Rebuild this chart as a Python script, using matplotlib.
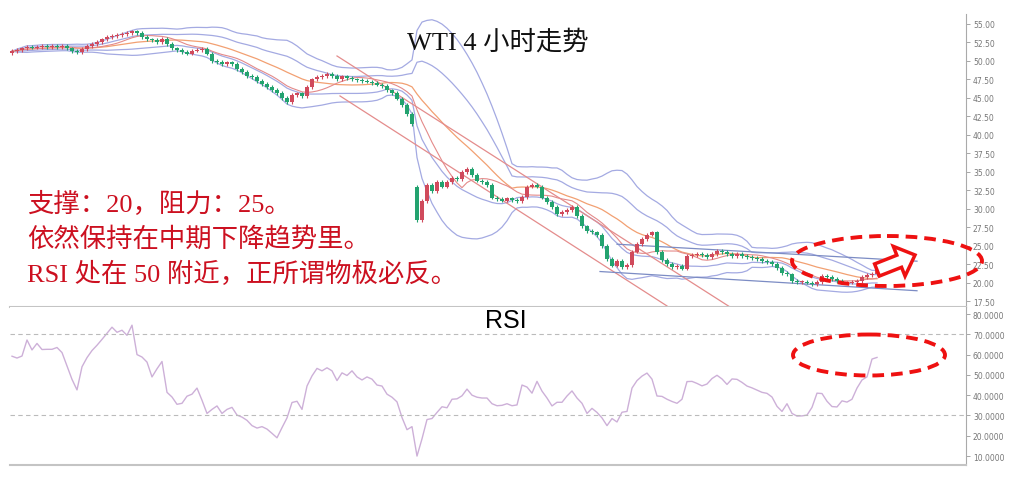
import numpy as np
import pandas as pd
import matplotlib
matplotlib.use('Agg')
import matplotlib.pyplot as plt
from matplotlib.patches import Ellipse, FancyArrow
from matplotlib.ticker import FormatStrFormatter

# 收盘价，每根4小时K线
closes = [
    51.3, 51.5, 51.7, 51.9, 51.8, 51.9, 52.0, 51.9, 52.0, 51.9,
    52.0, 51.7, 51.3, 51.2, 51.6, 52.0, 52.3, 52.6, 52.9, 53.2,
    53.4, 53.5, 53.6, 53.8, 54.0, 53.8, 53.2, 52.9, 52.8, 52.6,
    53.0, 52.3, 51.7, 51.5, 51.2, 51.0, 51.4, 51.5, 51.6, 51.0,
    50.0, 49.9, 49.6, 49.8, 49.6, 48.9, 48.5, 48.0, 47.8, 47.3,
    46.9, 46.5, 46.1, 45.7, 45.0, 44.4, 45.4, 45.6, 45.3, 46.5,
    47.5, 47.8, 48.0, 48.2, 48.0, 47.6, 47.9, 47.7, 47.5, 47.4,
    47.3, 47.2, 47.0, 46.8, 46.6, 46.0, 45.7, 44.9, 44.0, 42.8,
    41.4, 28.5, 31.0, 33.2, 32.4, 33.6, 33.0, 33.6, 34.2, 34.0,
    35.0, 35.4, 34.6, 33.8, 33.6, 33.2, 31.5, 31.3, 31.1, 31.4,
    31.2, 31.0, 31.6, 33.0, 33.2, 33.0, 31.5, 30.9, 30.2, 29.3,
    29.6, 29.8, 30.2, 29.0, 27.6, 27.0, 26.8, 26.4, 25.0, 23.2,
    22.3, 22.9, 22.1, 22.4, 24.2, 25.2, 25.9, 26.5, 26.8, 24.1,
    23.1, 22.5, 22.1, 22.3, 21.9, 23.6, 23.7, 23.9, 23.7, 23.5,
    23.9, 24.3, 24.1, 23.9, 23.6, 23.9, 23.6, 23.5, 23.3, 23.2,
    22.9, 22.8, 22.5, 22.0, 21.3, 21.1, 20.2, 20.1, 20.1, 20.0,
    19.8, 20.1, 20.9, 20.8, 20.5, 20.2, 20.0, 20.0, 20.1, 20.2,
    20.8, 21.0, 21.2, 22.0,
]
first_open = 51.1
gap_opens = {81: 33.0}

rsi = [
    59.2, 58.3, 59.3, 67.2, 62.3, 65.5, 62.5, 62.6, 62.6, 63.5,
    61.0, 54.4, 47.8, 42.6, 54.0, 58.5, 62.0, 64.6, 67.5, 70.5,
    73.5, 71.0, 72.0, 69.5, 74.5, 60.0, 58.8, 56.3, 49.0, 53.0,
    56.6, 41.4, 39.1, 35.5, 36.0, 39.5, 40.5, 43.5, 37.5, 31.0,
    33.0, 34.7, 31.0, 33.0, 34.0, 30.2, 29.2, 27.6, 25.0, 23.8,
    24.5, 23.3, 21.2, 19.0, 24.0, 28.8, 36.4, 37.0, 33.0, 44.5,
    49.5, 53.2, 52.0, 53.5, 52.0, 47.2, 51.0, 49.7, 52.0, 49.0,
    47.5, 49.0, 47.9, 45.0, 44.5, 40.5, 39.0, 36.7, 29.0, 23.0,
    24.5, 10.0, 18.5, 28.0, 28.5, 31.5, 34.3, 33.8, 38.0, 38.2,
    39.7, 43.0, 40.0, 39.0, 38.6, 38.6, 35.8, 34.8, 35.0, 35.8,
    34.8, 35.2, 45.0, 44.0, 41.0, 46.8, 42.0, 38.6, 34.7, 36.5,
    36.5, 39.6, 42.1, 38.6, 36.0, 31.0, 33.5, 31.5, 28.8, 25.0,
    28.5, 26.8, 31.6, 32.0, 43.5, 47.2, 49.4, 50.9, 47.9, 39.6,
    39.4, 38.0, 36.9, 36.0, 38.0, 46.7, 46.8, 45.8, 44.6, 45.5,
    48.2, 49.8, 48.0, 45.3, 48.0, 47.8, 46.3, 44.5, 43.6, 42.5,
    41.4, 40.9, 39.1, 34.5, 32.0, 35.8, 31.0, 29.7, 29.8, 30.2,
    34.0, 41.0, 40.8, 37.0, 34.4, 34.2, 37.2, 36.6, 38.0, 43.5,
    47.5, 49.0, 57.8, 58.6,
]

# 手画趋势线 (K线序号, 价格)
channel_up = ([65.0, 143.6], [50.67, 16.7])
channel_low = ([65.6, 131.0], [45.26, 16.84])
tri_up = ([121.0, 181.0], [25.2, 22.9])
tri_low = ([117.6, 181.0], [21.5, 18.9])

price_ticks = np.arange(17.5, 55.1, 2.5)
rsi_ticks = np.arange(10, 81, 10)

plt.rcParams['font.family'] = ['Liberation Serif', 'Noto Sans CJK SC']

opens = [first_open] + closes[:-1]
for k in gap_opens:
    opens[k] = gap_opens[k]
n = len(closes)
x = np.arange(n)
s = pd.Series(closes)
ma20 = s.rolling(20, min_periods=1).mean()
sd20 = s.rolling(20, min_periods=1).std(ddof=0)
ma10 = s.rolling(10, min_periods=1).mean()

fig = plt.figure(figsize=(10.11, 4.85), dpi=100)
ax = fig.add_axes([10/1011, 177/485, 956/1011, 293/485])
ax2 = fig.add_axes([10/1011, 19/485, 956/1011, 158/485])

up_c = '#d04a5c'
dn_c = '#23a36f'
for i in range(n):
    o, c = opens[i], closes[i]
    col = up_c if c >= o else dn_c
    lo, hi = min(o, c), max(o, c)
    ax.vlines(x[i], lo - 0.25, hi + 0.25, color=col, lw=0.8, zorder=3)
    ax.bar(x[i], max(hi - lo, 0.08), bottom=lo, width=0.62, color=col, zorder=4)

band_c = '#a4aae2'
for k in (1, 2):
    ax.plot(x, ma20 + k * sd20, color=band_c, lw=0.9, zorder=2)
    ax.plot(x, ma20 - k * sd20, color=band_c, lw=0.9, zorder=2)
ax.plot(x, ma20, color='#f2a072', lw=0.9, zorder=2)
ax.plot(x, ma10, color='#e48a8a', lw=0.8, zorder=2)

for line in (channel_up, channel_low):
    ax.plot(line[0], line[1], color='#e48c8c', lw=0.9, zorder=2)
for line in (tri_up, tri_low):
    ax.plot(line[0], line[1], color='#7c8cc4', lw=0.9, zorder=2)

ax.set_xlim(-0.4, 190.8)
ax.set_ylim(16.70, 56.35)
ax.set_yticks(price_ticks)
ax.yaxis.set_major_formatter(FormatStrFormatter('%.2f'))

ax2.plot(x, rsi, color='#cdb0d8', lw=1.0)
ax2.axhline(70, color='#bbbbbb', lw=0.8, ls=(0, (4, 3)))
ax2.axhline(30, color='#bbbbbb', lw=0.8, ls=(0, (4, 3)))
ax2.set_xlim(-0.4, 190.8)
ax2.set_ylim(5.6, 83.45)
ax2.set_yticks(rsi_ticks)
ax2.yaxis.set_major_formatter(FormatStrFormatter('%.4f'))

for a in (ax, ax2):
    a.set_xticks([])
    a.yaxis.tick_right()
    a.tick_params(axis='y', length=3, width=0.6, color='#999999', labelcolor='#777777',
                  labelsize=5.5, pad=2)
    for lab in a.get_yticklabels():
        lab.set_family('DejaVu Sans')
    a.spines['left'].set_visible(False)
    a.spines['top'].set_visible(False)
    a.spines['right'].set_color('#aaaaaa')
    a.spines['bottom'].set_color('#c4c4c4')
    a.spines['bottom'].set_linewidth(1.5)

# 注释层，像素坐标
ov = fig.add_axes([0, 0, 1, 1], facecolor='none')
ov.set_xlim(0, 1011)
ov.set_ylim(485, 0)
ov.axis('off')

ov.text(498, 50, 'WTI 4 小时走势', fontsize=19, color='#111111', ha='center', va='baseline')
red_t = '#cc1020'
ov.text(27, 212, '支撑：20，阻力：25。', fontsize=19, color=red_t, va='baseline')
ov.text(27, 247, '依然保持在中期下降趋势里。', fontsize=19, color=red_t, va='baseline')
ov.text(27, 282, 'RSI 处在 50 附近，正所谓物极必反。', fontsize=19, color=red_t, va='baseline')
ov.text(506, 328, 'RSI', fontsize=18, color='black', ha='center', va='baseline', family='Liberation Sans')

dash = (0, (3, 1.8))
ov.add_patch(Ellipse((887, 262), 190, 50, fill=False, ec='#ee1111', lw=2.8, ls=dash))
ov.add_patch(Ellipse((869, 356), 152, 41, fill=False, ec='#ee1111', lw=2.8, ls=dash))
ov.add_patch(FancyArrow(877, 271, 38, -15, width=13, head_width=32, head_length=17,
                        length_includes_head=True, fc='white', ec='#ee1111', lw=2.5))

fig.savefig('out.png', dpi=100, facecolor='white')
